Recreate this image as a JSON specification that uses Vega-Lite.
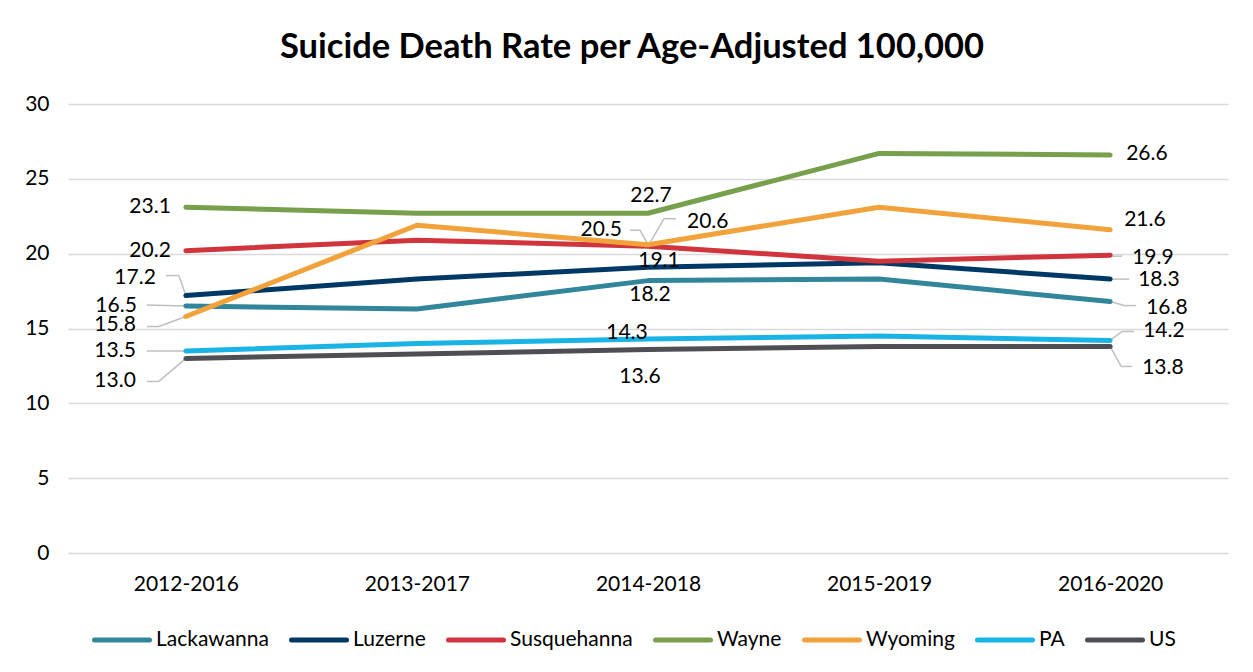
{
  "$schema": "https://vega.github.io/schema/vega-lite/v6.json",
  "width": 1160,
  "height": 449,
  "autosize": {"type": "none"},
  "padding": {"left": 68, "top": 104, "right": 25, "bottom": 119},
  "background": "#ffffff",
  "config": {
    "view": {"stroke": null},
    "font": "Lato",
    "text": {"font": "Lato", "fontSize": 21, "fill": "#000000", "baseline": "middle"}
  },
  "title": {
    "text": "Suicide Death Rate per Age-Adjusted 100,000",
    "font": "Lato",
    "fontSize": 34.5,
    "fontWeight": "bold",
    "color": "#000000",
    "anchor": "middle",
    "dx": -16,
    "offset": 28
  },
  "data": {
    "values": [
      {"series": "Lackawanna", "period": "2012-2016", "value": 16.5},
      {"series": "Lackawanna", "period": "2013-2017", "value": 16.3},
      {"series": "Lackawanna", "period": "2014-2018", "value": 18.2},
      {"series": "Lackawanna", "period": "2015-2019", "value": 18.3},
      {"series": "Lackawanna", "period": "2016-2020", "value": 16.8},
      {"series": "Luzerne", "period": "2012-2016", "value": 17.2},
      {"series": "Luzerne", "period": "2013-2017", "value": 18.3},
      {"series": "Luzerne", "period": "2014-2018", "value": 19.1},
      {"series": "Luzerne", "period": "2015-2019", "value": 19.4},
      {"series": "Luzerne", "period": "2016-2020", "value": 18.3},
      {"series": "Susquehanna", "period": "2012-2016", "value": 20.2},
      {"series": "Susquehanna", "period": "2013-2017", "value": 20.9},
      {"series": "Susquehanna", "period": "2014-2018", "value": 20.5},
      {"series": "Susquehanna", "period": "2015-2019", "value": 19.5},
      {"series": "Susquehanna", "period": "2016-2020", "value": 19.9},
      {"series": "Wayne", "period": "2012-2016", "value": 23.1},
      {"series": "Wayne", "period": "2013-2017", "value": 22.7},
      {"series": "Wayne", "period": "2014-2018", "value": 22.7},
      {"series": "Wayne", "period": "2015-2019", "value": 26.7},
      {"series": "Wayne", "period": "2016-2020", "value": 26.6},
      {"series": "Wyoming", "period": "2012-2016", "value": 15.8},
      {"series": "Wyoming", "period": "2013-2017", "value": 21.9},
      {"series": "Wyoming", "period": "2014-2018", "value": 20.6},
      {"series": "Wyoming", "period": "2015-2019", "value": 23.1},
      {"series": "Wyoming", "period": "2016-2020", "value": 21.6},
      {"series": "PA", "period": "2012-2016", "value": 13.5},
      {"series": "PA", "period": "2013-2017", "value": 14.0},
      {"series": "PA", "period": "2014-2018", "value": 14.3},
      {"series": "PA", "period": "2015-2019", "value": 14.5},
      {"series": "PA", "period": "2016-2020", "value": 14.2},
      {"series": "US", "period": "2012-2016", "value": 13.0},
      {"series": "US", "period": "2013-2017", "value": 13.3},
      {"series": "US", "period": "2014-2018", "value": 13.6},
      {"series": "US", "period": "2015-2019", "value": 13.8},
      {"series": "US", "period": "2016-2020", "value": 13.8}
    ]
  },
  "encoding": {
    "x": {
      "field": "period",
      "type": "ordinal",
      "scale": {"type": "point", "padding": 0.51},
      "axis": {
        "title": null,
        "labelAngle": 0,
        "domain": false,
        "ticks": false,
        "grid": false,
        "labelPadding": 20,
        "labelFont": "Lato",
        "labelFontSize": 21,
        "labelColor": "#000000"
      }
    },
    "y": {
      "field": "value",
      "type": "quantitative",
      "scale": {"domain": [0, 30], "nice": false},
      "axis": {
        "title": null,
        "values": [0, 5, 10, 15, 20, 25, 30],
        "domain": false,
        "ticks": false,
        "grid": true,
        "gridColor": "#D9D9D9",
        "gridWidth": 1.5,
        "labelPadding": 19,
        "labelFont": "Lato",
        "labelFontSize": 21,
        "labelColor": "#000000"
      }
    }
  },
  "layer": [
    {"transform": [{"filter": "datum.series==='Luzerne' && datum.period==='2012-2016'"}], "mark": {"type": "rule", "color": "#BFBFBF", "strokeWidth": 1.5, "xOffset": -20, "yOffset": -20, "x2Offset": -7, "y2Offset": -20}, "encoding": {"x2": {"field": "period"}, "y2": {"field": "value"}}},
    {"transform": [{"filter": "datum.series==='Luzerne' && datum.period==='2012-2016'"}], "mark": {"type": "rule", "color": "#BFBFBF", "strokeWidth": 1.5, "xOffset": -7, "yOffset": -20, "x2Offset": 0, "y2Offset": 0}, "encoding": {"x2": {"field": "period"}, "y2": {"field": "value"}}},
    {"transform": [{"filter": "datum.series==='Lackawanna' && datum.period==='2012-2016'"}], "mark": {"type": "rule", "color": "#BFBFBF", "strokeWidth": 1.5, "xOffset": -39, "yOffset": -1, "x2Offset": 0, "y2Offset": 0}, "encoding": {"x2": {"field": "period"}, "y2": {"field": "value"}}},
    {"transform": [{"filter": "datum.series==='Wyoming' && datum.period==='2012-2016'"}], "mark": {"type": "rule", "color": "#BFBFBF", "strokeWidth": 1.5, "xOffset": -39, "yOffset": 10, "x2Offset": -27, "y2Offset": 10}, "encoding": {"x2": {"field": "period"}, "y2": {"field": "value"}}},
    {"transform": [{"filter": "datum.series==='Wyoming' && datum.period==='2012-2016'"}], "mark": {"type": "rule", "color": "#BFBFBF", "strokeWidth": 1.5, "xOffset": -27, "yOffset": 10, "x2Offset": 0, "y2Offset": 0}, "encoding": {"x2": {"field": "period"}, "y2": {"field": "value"}}},
    {"transform": [{"filter": "datum.series==='PA' && datum.period==='2012-2016'"}], "mark": {"type": "rule", "color": "#BFBFBF", "strokeWidth": 1.5, "xOffset": -39, "yOffset": 0, "x2Offset": 0, "y2Offset": 0}, "encoding": {"x2": {"field": "period"}, "y2": {"field": "value"}}},
    {"transform": [{"filter": "datum.series==='US' && datum.period==='2012-2016'"}], "mark": {"type": "rule", "color": "#BFBFBF", "strokeWidth": 1.5, "xOffset": -39, "yOffset": 23, "x2Offset": -27, "y2Offset": 23}, "encoding": {"x2": {"field": "period"}, "y2": {"field": "value"}}},
    {"transform": [{"filter": "datum.series==='US' && datum.period==='2012-2016'"}], "mark": {"type": "rule", "color": "#BFBFBF", "strokeWidth": 1.5, "xOffset": -27, "yOffset": 23, "x2Offset": 0, "y2Offset": 0}, "encoding": {"x2": {"field": "period"}, "y2": {"field": "value"}}},
    {"transform": [{"filter": "datum.series==='Susquehanna' && datum.period==='2014-2018'"}], "mark": {"type": "rule", "color": "#BFBFBF", "strokeWidth": 1.5, "xOffset": -18, "yOffset": -16, "x2Offset": -8, "y2Offset": -16}, "encoding": {"x2": {"field": "period"}, "y2": {"field": "value"}}},
    {"transform": [{"filter": "datum.series==='Susquehanna' && datum.period==='2014-2018'"}], "mark": {"type": "rule", "color": "#BFBFBF", "strokeWidth": 1.5, "xOffset": -8, "yOffset": -16, "x2Offset": 1, "y2Offset": 0}, "encoding": {"x2": {"field": "period"}, "y2": {"field": "value"}}},
    {"transform": [{"filter": "datum.series==='Wyoming' && datum.period==='2014-2018'"}], "mark": {"type": "rule", "color": "#BFBFBF", "strokeWidth": 1.5, "xOffset": 1, "yOffset": 0, "x2Offset": 16, "y2Offset": -26}, "encoding": {"x2": {"field": "period"}, "y2": {"field": "value"}}},
    {"transform": [{"filter": "datum.series==='Wyoming' && datum.period==='2014-2018'"}], "mark": {"type": "rule", "color": "#BFBFBF", "strokeWidth": 1.5, "xOffset": 16, "yOffset": -26, "x2Offset": 28, "y2Offset": -26}, "encoding": {"x2": {"field": "period"}, "y2": {"field": "value"}}},
    {"transform": [{"filter": "datum.series==='Susquehanna' && datum.period==='2016-2020'"}], "mark": {"type": "rule", "color": "#BFBFBF", "strokeWidth": 1.5, "xOffset": 0, "yOffset": 1, "x2Offset": 12, "y2Offset": 1}, "encoding": {"x2": {"field": "period"}, "y2": {"field": "value"}}},
    {"transform": [{"filter": "datum.series==='Luzerne' && datum.period==='2016-2020'"}], "mark": {"type": "rule", "color": "#BFBFBF", "strokeWidth": 1.5, "xOffset": 0, "yOffset": 0, "x2Offset": 19, "y2Offset": 0}, "encoding": {"x2": {"field": "period"}, "y2": {"field": "value"}}},
    {"transform": [{"filter": "datum.series==='Lackawanna' && datum.period==='2016-2020'"}], "mark": {"type": "rule", "color": "#BFBFBF", "strokeWidth": 1.5, "xOffset": 0, "yOffset": 0, "x2Offset": 14, "y2Offset": 4}, "encoding": {"x2": {"field": "period"}, "y2": {"field": "value"}}},
    {"transform": [{"filter": "datum.series==='Lackawanna' && datum.period==='2016-2020'"}], "mark": {"type": "rule", "color": "#BFBFBF", "strokeWidth": 1.5, "xOffset": 14, "yOffset": 4, "x2Offset": 26, "y2Offset": 4}, "encoding": {"x2": {"field": "period"}, "y2": {"field": "value"}}},
    {"transform": [{"filter": "datum.series==='PA' && datum.period==='2016-2020'"}], "mark": {"type": "rule", "color": "#BFBFBF", "strokeWidth": 1.5, "xOffset": 0, "yOffset": 0, "x2Offset": 12, "y2Offset": -9}, "encoding": {"x2": {"field": "period"}, "y2": {"field": "value"}}},
    {"transform": [{"filter": "datum.series==='PA' && datum.period==='2016-2020'"}], "mark": {"type": "rule", "color": "#BFBFBF", "strokeWidth": 1.5, "xOffset": 12, "yOffset": -9, "x2Offset": 24, "y2Offset": -9}, "encoding": {"x2": {"field": "period"}, "y2": {"field": "value"}}},
    {"transform": [{"filter": "datum.series==='US' && datum.period==='2016-2020'"}], "mark": {"type": "rule", "color": "#BFBFBF", "strokeWidth": 1.5, "xOffset": 0, "yOffset": 0, "x2Offset": 11, "y2Offset": 20}, "encoding": {"x2": {"field": "period"}, "y2": {"field": "value"}}},
    {"transform": [{"filter": "datum.series==='US' && datum.period==='2016-2020'"}], "mark": {"type": "rule", "color": "#BFBFBF", "strokeWidth": 1.5, "xOffset": 11, "yOffset": 20, "x2Offset": 22, "y2Offset": 20}, "encoding": {"x2": {"field": "period"}, "y2": {"field": "value"}}},
    {
      "mark": {"type": "line", "strokeWidth": 5, "strokeCap": "round", "strokeJoin": "round"},
      "encoding": {
        "color": {
          "field": "series",
          "type": "nominal",
          "sort": ["Lackawanna", "Luzerne", "Susquehanna", "Wayne", "Wyoming", "PA", "US"],
          "scale": {
            "domain": ["Lackawanna", "Luzerne", "Susquehanna", "Wayne", "Wyoming", "PA", "US"],
            "range": ["#31869B", "#003865", "#D0343D", "#76A04B", "#F2A23A", "#1AB3E6", "#4D4F54"]
          },
          "legend": {
            "orient": "none",
            "direction": "horizontal",
            "legendX": 24,
            "legendY": 506,
            "title": null,
            "padding": 0,
            "symbolType": "stroke",
            "symbolSize": 3025,
            "symbolStrokeWidth": 5,
            "labelFont": "Lato",
            "labelFontSize": 21,
            "labelColor": "#000000",
            "labelOffset": 4,
            "columnPadding": 12,
            "encode": {"symbols": {"update": {"strokeCap": {"value": "round"}}}}
          }
        },
        "order": {"field": "period"}
      }
    },
    {"transform": [{"filter": "datum.series==='Wayne' && datum.period==='2012-2016'"}], "mark": {"type": "text", "align": "right", "dx": -15, "dy": 0}, "encoding": {"text": {"field": "value", "format": ".1f"}}},
    {"transform": [{"filter": "datum.series==='Susquehanna' && datum.period==='2012-2016'"}], "mark": {"type": "text", "align": "right", "dx": -15, "dy": 0}, "encoding": {"text": {"field": "value", "format": ".1f"}}},
    {"transform": [{"filter": "datum.series==='Luzerne' && datum.period==='2012-2016'"}], "mark": {"type": "text", "align": "right", "dx": -30, "dy": -18}, "encoding": {"text": {"field": "value", "format": ".1f"}}},
    {"transform": [{"filter": "datum.series==='Lackawanna' && datum.period==='2012-2016'"}], "mark": {"type": "text", "align": "right", "dx": -49, "dy": 0}, "encoding": {"text": {"field": "value", "format": ".1f"}}},
    {"transform": [{"filter": "datum.series==='Wyoming' && datum.period==='2012-2016'"}], "mark": {"type": "text", "align": "right", "dx": -50, "dy": 8}, "encoding": {"text": {"field": "value", "format": ".1f"}}},
    {"transform": [{"filter": "datum.series==='PA' && datum.period==='2012-2016'"}], "mark": {"type": "text", "align": "right", "dx": -50, "dy": 0}, "encoding": {"text": {"field": "value", "format": ".1f"}}},
    {"transform": [{"filter": "datum.series==='US' && datum.period==='2012-2016'"}], "mark": {"type": "text", "align": "right", "dx": -50, "dy": 23}, "encoding": {"text": {"field": "value", "format": ".1f"}}},
    {"transform": [{"filter": "datum.series==='Wayne' && datum.period==='2014-2018'"}], "mark": {"type": "text", "align": "center", "dx": 3, "dy": -17}, "encoding": {"text": {"field": "value", "format": ".1f"}}},
    {"transform": [{"filter": "datum.series==='Susquehanna' && datum.period==='2014-2018'"}], "mark": {"type": "text", "align": "right", "dx": -26, "dy": -16}, "encoding": {"text": {"field": "value", "format": ".1f"}}},
    {"transform": [{"filter": "datum.series==='Wyoming' && datum.period==='2014-2018'"}], "mark": {"type": "text", "align": "left", "dx": 39, "dy": -23}, "encoding": {"text": {"field": "value", "format": ".1f"}}},
    {"transform": [{"filter": "datum.series==='Luzerne' && datum.period==='2014-2018'"}], "mark": {"type": "text", "align": "center", "dx": 11, "dy": -6}, "encoding": {"text": {"field": "value", "format": ".1f"}}},
    {"transform": [{"filter": "datum.series==='Lackawanna' && datum.period==='2014-2018'"}], "mark": {"type": "text", "align": "center", "dx": 2, "dy": 14}, "encoding": {"text": {"field": "value", "format": ".1f"}}},
    {"transform": [{"filter": "datum.series==='PA' && datum.period==='2014-2018'"}], "mark": {"type": "text", "align": "center", "dx": -21, "dy": -6}, "encoding": {"text": {"field": "value", "format": ".1f"}}},
    {"transform": [{"filter": "datum.series==='US' && datum.period==='2014-2018'"}], "mark": {"type": "text", "align": "center", "dx": -8, "dy": 28}, "encoding": {"text": {"field": "value", "format": ".1f"}}},
    {"transform": [{"filter": "datum.series==='Wayne' && datum.period==='2016-2020'"}], "mark": {"type": "text", "align": "left", "dx": 16, "dy": -1}, "encoding": {"text": {"field": "value", "format": ".1f"}}},
    {"transform": [{"filter": "datum.series==='Wyoming' && datum.period==='2016-2020'"}], "mark": {"type": "text", "align": "left", "dx": 14, "dy": -10}, "encoding": {"text": {"field": "value", "format": ".1f"}}},
    {"transform": [{"filter": "datum.series==='Susquehanna' && datum.period==='2016-2020'"}], "mark": {"type": "text", "align": "left", "dx": 22, "dy": 3}, "encoding": {"text": {"field": "value", "format": ".1f"}}},
    {"transform": [{"filter": "datum.series==='Luzerne' && datum.period==='2016-2020'"}], "mark": {"type": "text", "align": "left", "dx": 28, "dy": 1}, "encoding": {"text": {"field": "value", "format": ".1f"}}},
    {"transform": [{"filter": "datum.series==='Lackawanna' && datum.period==='2016-2020'"}], "mark": {"type": "text", "align": "left", "dx": 36, "dy": 6}, "encoding": {"text": {"field": "value", "format": ".1f"}}},
    {"transform": [{"filter": "datum.series==='PA' && datum.period==='2016-2020'"}], "mark": {"type": "text", "align": "left", "dx": 33, "dy": -9}, "encoding": {"text": {"field": "value", "format": ".1f"}}},
    {"transform": [{"filter": "datum.series==='US' && datum.period==='2016-2020'"}], "mark": {"type": "text", "align": "left", "dx": 32, "dy": 22}, "encoding": {"text": {"field": "value", "format": ".1f"}}}
  ]
}
